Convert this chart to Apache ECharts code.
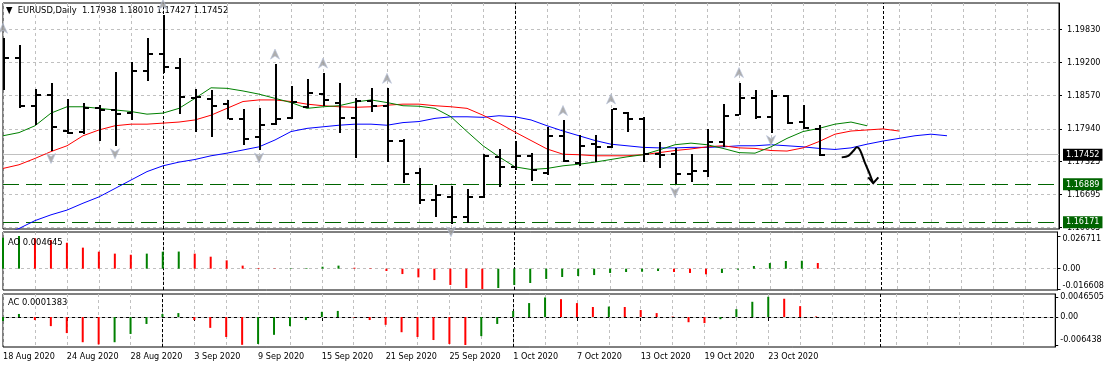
<!DOCTYPE html>
<html><head><meta charset="utf-8">
<script src="https://cdn.jsdelivr.net/npm/echarts@6/dist/echarts.min.js"></script>
<style>html,body{margin:0;padding:0;background:#fff}#c{width:1107px;height:368px}</style>
</head><body><div id="c"></div>
<script>
// ---------- data ----------
const dates = ['18 Aug 2020','19 Aug 2020','20 Aug 2020','21 Aug 2020','24 Aug 2020','25 Aug 2020','26 Aug 2020','27 Aug 2020',
 '28 Aug 2020','31 Aug 2020','1 Sep 2020','2 Sep 2020','3 Sep 2020','4 Sep 2020','7 Sep 2020','8 Sep 2020',
 '9 Sep 2020','10 Sep 2020','11 Sep 2020','14 Sep 2020','15 Sep 2020','16 Sep 2020','17 Sep 2020','18 Sep 2020',
 '21 Sep 2020','22 Sep 2020','23 Sep 2020','24 Sep 2020','25 Sep 2020','28 Sep 2020','29 Sep 2020','30 Sep 2020',
 '1 Oct 2020','2 Oct 2020','5 Oct 2020','6 Oct 2020','7 Oct 2020','8 Oct 2020','9 Oct 2020','12 Oct 2020',
 '13 Oct 2020','14 Oct 2020','15 Oct 2020','16 Oct 2020','19 Oct 2020','20 Oct 2020','21 Oct 2020','22 Oct 2020',
 '23 Oct 2020','26 Oct 2020','27 Oct 2020','28 Oct 2020'];
const futureSlots = 15;

const opens  = [1.1870,1.1929,1.1837,1.1859,1.1790,1.1788,1.1833,1.1830,1.1824,1.1903,1.1936,1.1909,1.1853,1.1851,1.1841,1.1813,
 1.1779,1.1803,1.1814,1.1835,1.1861,1.1844,1.1814,1.1847,1.1837,1.1771,1.1710,1.1660,1.1665,1.1627,1.1665,1.1740,
 1.1722,1.1743,1.1711,1.1781,1.1730,1.1765,1.1759,1.1824,1.1813,1.1746,1.1746,1.1708,1.1714,1.1770,1.1820,1.1853,
 1.1817,1.1856,1.1807,1.17938];
const highs  = [1.1966,1.1953,1.1869,1.1882,1.1851,1.1843,1.1839,1.1902,1.1921,1.1967,1.2011,1.1928,1.1869,1.1867,1.1849,1.1831,
 1.1833,1.1917,1.1875,1.1889,1.1900,1.1882,1.1852,1.1871,1.1871,1.1775,1.1719,1.1688,1.1686,1.1680,1.1746,1.1756,
 1.1772,1.1749,1.1798,1.1810,1.1782,1.1782,1.1832,1.1827,1.1816,1.1770,1.1757,1.1746,1.1794,1.1841,1.1882,1.1868,
 1.1867,1.1858,1.1839,1.18010];
const lows   = [1.1868,1.1833,1.1801,1.1753,1.1784,1.1784,1.1772,1.1762,1.1810,1.1884,1.1901,1.1822,1.1789,1.1779,1.1812,1.1763,
 1.1754,1.1801,1.1813,1.1833,1.1837,1.1787,1.1738,1.1826,1.1732,1.1691,1.1652,1.1626,1.1614,1.1615,1.1662,1.1684,
 1.1716,1.1696,1.1707,1.1732,1.1724,1.1732,1.1757,1.1788,1.1731,1.1719,1.1689,1.1694,1.1703,1.1760,1.1820,1.1813,
 1.1787,1.1803,1.1794,1.17427];
const closes = [1.1929,1.1837,1.1859,1.1797,1.1786,1.1833,1.1830,1.1822,1.1903,1.1936,1.1911,1.1855,1.1854,1.1837,1.1813,1.1774,
 1.1801,1.1813,1.1845,1.1862,1.1849,1.1815,1.1847,1.1837,1.1772,1.1709,1.1660,1.1669,1.1627,1.1665,1.1743,1.1722,
 1.1743,1.1716,1.1781,1.1733,1.1762,1.1760,1.1831,1.1813,1.1746,1.1745,1.1708,1.1714,1.1770,1.1819,1.1853,1.1817,
 1.1856,1.1806,1.1795,1.17452];

// Alligator lines (already shifted forward)
const lips  = [1.1781,1.1787,1.1800,1.1824,1.1836,1.1836,1.1833,1.1830,1.1827,1.1822,
 1.1824,1.1833,1.1852,1.1872,1.1871,1.1866,1.1860,1.1852,1.1844,1.1833,
 1.1836,1.1838,1.1845,1.1849,1.1844,1.1838,1.1837,1.1833,1.1817,1.1789,
 1.1762,1.1741,1.1722,1.1717,1.1719,1.1724,1.1727,1.1731,1.1736,1.1741,
 1.1745,1.1754,1.1764,1.1767,1.1764,1.1757,1.1749,1.1748,1.1760,1.1776,
 1.1789,1.1795,1.1803,1.1807,1.1800];
const teeth = [1.1719,1.1726,1.1738,1.1751,1.1762,1.1781,1.1792,1.1800,1.1803,1.1803,
 1.1805,1.1807,1.1811,1.1820,1.1833,1.1846,1.1849,1.1849,1.1846,1.1841,
 1.1838,1.1836,1.1835,1.1836,1.1839,1.1841,1.1841,1.1838,1.1836,1.1833,
 1.1820,1.1805,1.1788,1.1772,1.1756,1.1746,1.1745,1.1743,1.1743,1.1743,
 1.1745,1.1749,1.1753,1.1756,1.1760,1.1762,1.1758,1.1757,1.1753,1.1752,
 1.1758,1.1770,1.1784,1.1790,1.1792,1.1794,1.1790];
const jaw   = [1.1593,1.1605,1.1620,1.1631,1.1640,1.1653,1.1665,1.1681,1.1697,1.1713,
 1.1724,1.1731,1.1736,1.1743,1.1748,1.1754,1.1760,1.1773,1.1789,1.1795,
 1.1798,1.1801,1.1803,1.1803,1.1801,1.1806,1.1808,1.1814,1.1817,1.1817,
 1.1816,1.1819,1.1817,1.1811,1.1800,1.1790,1.1781,1.1772,1.1765,1.1762,
 1.1759,1.1758,1.1758,1.1759,1.1759,1.1760,1.1762,1.1762,1.1764,1.1762,
 1.1760,1.1757,1.1755,1.1758,1.1765,1.1771,1.1776,1.1781,1.1784,1.1781];

const upFractals   = [[0,1.1966],[10,1.2011],[17,1.1917],[20,1.1900],[24,1.1871],[35,1.1810],[38,1.1832],[46,1.1882]];
const downFractals = [[3,1.1753],[7,1.1762],[16,1.1754],[28,1.1614],[42,1.1689],[48,1.1787]];

const aoValues = [0.0253,0.026711,0.0248,0.0234,0.0212,0.0172,0.0139,0.0123,0.0114,0.0123,0.0139,0.0140,0.0123,0.0098,0.0068,0.0025,
 0.0006,0.0003,0.0004,0.0005,0.0016,0.0025,0.0008,0.0004,-0.0019,-0.0044,-0.0071,-0.0093,-0.0133,-0.0158,-0.016608,-0.0158,
 -0.0133,-0.0117,-0.0084,-0.0068,-0.0060,-0.0052,-0.0035,-0.0027,-0.0025,-0.0019,-0.0027,-0.0035,-0.0046,-0.0035,-0.0008,0.0022,
 0.0046,0.0063,0.0065,0.004645];
const acValues = [-0.0009,0.0007,-0.0007,-0.0021,-0.0037,-0.0058,-0.0063,-0.0058,-0.0039,-0.0016,0.0007,0.0009,-0.0007,-0.0025,-0.0046,-0.0064,
 -0.0062,-0.0041,-0.0021,-0.0007,0.0012,0.0014,-0.0001,-0.0007,-0.0018,-0.0035,-0.0046,-0.0053,-0.0062,-0.006438,-0.0044,-0.0016,
 0.0014,0.0032,0.0045,0.0041,0.0032,0.0023,0.0024,0.0023,0.0016,0.0009,0.0001,-0.0012,-0.0014,-0.0005,0.0018,0.0035,
 0.0046505,0.0042,0.0025,0.0001383];

const priceTicks = [1.19830,1.19200,1.18570,1.17940,1.17325,1.16695,1.16065];
const aoTicks = [0.026711,0,-0.016608];
const aoTickLabels = ['0.026711','0.00','-0.016608'];
const acTicks = [0.0046505,0,-0.006438];
const acTickLabels = ['0.0046505','0.00','-0.006438'];
const bidPrice = 1.17452;
const levels = [1.16889,1.16171];
const monthStarts = [10,32,55];
// hand-drawn arrow annotation, in (bar index, price)
const sketchPath = [[52.42,1.1740],[52.83,1.1743],[53.14,1.1752],[53.36,1.1759],[53.56,1.1754],[53.88,1.1729],[54.19,1.1707],[54.39,1.1691]];
const sketchHead = [[54.08,1.1702],[54.39,1.1691],[54.71,1.1702]];

// ---------- build ----------
const FONT = "'DejaVu Sans Condensed','Liberation Sans',sans-serif";
const categories = dates.slice();
for (let k = 0; k < futureSlots; k++) categories.push('+' + (k + 1));
const N = categories.length;
const pad = a => a.concat(new Array(N - a.length).fill(null));
const GRIDC = '#c0c0c0';
const GREEN = '#008000', RED = '#ff0000';
const lvlGreen = '#006400';

const ohlc = opens.map((o, i) => [i, o, highs[i], lows[i], closes[i]]);
function barColors(vals) {
  return vals.map((v, i) => ({ value: v, itemStyle: { color: (i === 0 || v > vals[i - 1]) ? GREEN : RED } }));
}
const monthLines = monthStarts.map(i => ({ xAxis: categories[i] }));
const dashGrid = { color: GRIDC, type: [3, 3], width: 1 };

function renderOhlc(params, api) {
  const i = api.value(0);
  const pO = api.coord([i, api.value(1)]);
  const pH = api.coord([i, api.value(2)]);
  const pL = api.coord([i, api.value(3)]);
  const pC = api.coord([i, api.value(4)]);
  const x = Math.round(pO[0]);
  const yH = Math.round(pH[1]), yL = Math.round(pL[1]);
  const yO = Math.round(pO[1]), yC = Math.round(pC[1]);
  return { type: 'group', children: [
    { type: 'rect', shape: { x: x, y: yH, width: 2, height: Math.max(1, yL - yH) }, style: { fill: '#000' } },
    { type: 'rect', shape: { x: x - 4, y: yO - 1, width: 4, height: 2 }, style: { fill: '#000' } },
    { type: 'rect', shape: { x: x + 2, y: yC - 1, width: 4, height: 2 }, style: { fill: '#000' } }
  ]};
}
function renderSketch(params, api) {
  const toPt = p => {
    const a = api.coord([0, p[1]]), b = api.coord([1, p[1]]);
    return [a[0] + p[0] * (b[0] - a[0]), a[1]];
  };
  return { type: 'group', children: [
    { type: 'polyline', shape: { points: sketchPath.map(toPt), smooth: 0.3 }, style: { stroke: '#000', lineWidth: 2, fill: null } },
    { type: 'polyline', shape: { points: sketchHead.map(toPt) }, style: { stroke: '#000', lineWidth: 2, fill: null } }
  ]};
}
function tickFmt(ticks, labels, styles) {
  return v => {
    const k = ticks.findIndex(t => Math.abs(t - v) < 1e-9);
    if (k < 0) return '';
    return '{' + styles[k] + '|' + labels[k] + '}';
  };
}
const labelBase = { fontSize: 9, color: '#000', fontFamily: FONT };
const richStyles = {
  m: Object.assign({}, labelBase),
  t: Object.assign({ padding: [6, 0, 0, 0] }, labelBase),
  b: Object.assign({ padding: [0, 0, 6, 0] }, labelBase),
  b2: Object.assign({ padding: [0, 0, 10, 0] }, labelBase)
};

function xAxisCfg(idx, showLabels) {
  return {
    type: 'category', gridIndex: idx, data: categories, boundaryGap: false,
    axisLine: { show: showLabels, lineStyle: { color: '#000' } },
    axisTick: { show: showLabels, length: 4, interval: (i) => i % 4 === 0 && i < dates.length, lineStyle: { color: '#000' } },
    axisLabel: { show: showLabels, interval: (i) => i % 4 === 0 && i < dates.length, align: 'left', margin: 5,
      fontSize: 9, color: '#000', fontFamily: FONT, formatter: (v, i) => (i < dates.length ? v : '') },
    splitLine: { show: true, interval: (i) => i % 2 === 0, lineStyle: dashGrid }
  };
}
const levelLabel = (bg) => ({ show: true, position: 'end', distance: 4, color: '#fff', backgroundColor: bg,
  padding: [2, 3, 1, 3], fontSize: 9, fontFamily: FONT });
const ML = { silent: true, symbol: ['none', 'none'], precision: 8 };

const option = {
  animation: false,
  backgroundColor: '#fff',
  textStyle: { fontFamily: FONT },
  title: [
    { text: '\u25BC  EURUSD,Daily  ' + [opens[51], highs[51], lows[51], closes[51]].map(v => v.toFixed(5)).join(' '),
      left: 6, top: 6, padding: 0, textStyle: { fontSize: 9.3, fontWeight: 'normal', color: '#000', fontFamily: FONT } },
    { text: 'AO ' + aoValues[aoValues.length - 1], left: 8, top: 238, padding: 0,
      textStyle: { fontSize: 9.3, fontWeight: 'normal', color: '#000', fontFamily: FONT } },
    { text: 'AC ' + acValues[acValues.length - 1], left: 8, top: 298, padding: 0,
      textStyle: { fontSize: 9.3, fontWeight: 'normal', color: '#000', fontFamily: FONT } }
  ],
  grid: [
    { left: 3, right: 48, top: 3, height: 226, show: true, borderColor: '#000', borderWidth: 1 },
    { left: 3, right: 48, top: 232, height: 58, show: true, borderColor: '#000', borderWidth: 1 },
    { left: 3, right: 48, top: 294, height: 53, show: true, borderColor: '#000', borderWidth: 1 }
  ],
  xAxis: [xAxisCfg(0, false), xAxisCfg(1, false), xAxisCfg(2, true)],
  yAxis: [
    { type: 'value', gridIndex: 0, position: 'right', min: 1.16041, max: 1.20329,
      splitLine: { show: false }, axisLine: { show: true, lineStyle: { color: '#000' } },
      axisTick: { show: true, length: 3, customValues: priceTicks, lineStyle: { color: '#000' } },
      axisLabel: { customValues: priceTicks, margin: 8, fontSize: 9, color: '#000', fontFamily: FONT, formatter: v => v.toFixed(5) } },
    { type: 'value', gridIndex: 1, position: 'right', min: -0.017425, max: 0.029979,
      splitLine: { show: false }, axisLine: { show: true, lineStyle: { color: '#000' } },
      axisTick: { show: true, length: 3, customValues: aoTicks, lineStyle: { color: '#000' } },
      axisLabel: { customValues: aoTicks, margin: 5, formatter: tickFmt(aoTicks, aoTickLabels, ['t', 'm', 'b']), rich: richStyles } },
    { type: 'value', gridIndex: 2, position: 'right', min: -0.0069, max: 0.00529,
      splitLine: { show: false }, axisLine: { show: true, lineStyle: { color: '#000' } },
      axisTick: { show: true, length: 3, customValues: acTicks, lineStyle: { color: '#000' } },
      axisLabel: { customValues: acTicks, margin: 5, formatter: tickFmt(acTicks, acTickLabels, ['m', 'm', 'b2']), rich: richStyles } }
  ],
  series: [
    { name: 'Jaw', type: 'line', xAxisIndex: 0, yAxisIndex: 0, data: pad(jaw), showSymbol: false, z: 3,
      lineStyle: { color: '#0000ff', width: 1 }, itemStyle: { color: '#0000ff' },
      markLine: Object.assign({}, ML, { z: 1, label: { show: false }, lineStyle: dashGrid,
        data: priceTicks.map(v => ({ yAxis: v })) }) },
    { name: 'Teeth', type: 'line', xAxisIndex: 0, yAxisIndex: 0, data: pad(teeth), showSymbol: false, z: 3,
      lineStyle: { color: '#ff0000', width: 1 }, itemStyle: { color: '#ff0000' },
      markLine: Object.assign({}, ML, { z: 2,
        data: [
          { yAxis: bidPrice, lineStyle: { color: '#c0c0c0', type: 'solid', width: 1 }, label: Object.assign(levelLabel('#000'), { formatter: bidPrice.toFixed(5) }) }
        ].concat(levels.map(v => ({ yAxis: v, lineStyle: { color: lvlGreen, type: [16, 7], width: 1 },
          label: Object.assign(levelLabel(lvlGreen), { formatter: v.toFixed(5) }) }))) }) },
    { name: 'Lips', type: 'line', xAxisIndex: 0, yAxisIndex: 0, data: pad(lips), showSymbol: false, z: 3,
      lineStyle: { color: '#008000', width: 1 }, itemStyle: { color: '#008000' },
      markLine: Object.assign({}, ML, { z: 2, label: { show: false },
        lineStyle: { color: '#000', type: [3, 2], width: 1 }, data: monthLines }) },
    { name: 'EURUSD', type: 'custom', xAxisIndex: 0, yAxisIndex: 0, data: ohlc, renderItem: renderOhlc,
      encode: { x: 0, y: [1, 2, 3, 4] }, z: 10, clip: true },
    { name: 'FractalUp', type: 'scatter', xAxisIndex: 0, yAxisIndex: 0, data: upFractals, z: 11,
      symbol: 'path://M5,0 L10,10 L5,7 L0,10 Z', symbolSize: [9, 10], symbolOffset: [0, -10],
      itemStyle: { color: '#9a9a9a', borderColor: '#b8c4dc', borderWidth: 0.8 } },
    { name: 'FractalDown', type: 'scatter', xAxisIndex: 0, yAxisIndex: 0, data: downFractals, z: 11,
      symbol: 'path://M0,0 L5,3 L10,0 L5,10 Z', symbolSize: [9, 10], symbolOffset: [0, 8],
      itemStyle: { color: '#9a9a9a', borderColor: '#b8c4dc', borderWidth: 0.8 } },
    { name: 'Sketch', type: 'custom', xAxisIndex: 0, yAxisIndex: 0, data: [[0, sketchPath[0][1]]],
      renderItem: renderSketch, z: 12, silent: true },
    { name: 'AO', type: 'bar', xAxisIndex: 1, yAxisIndex: 1, data: barColors(aoValues), barWidth: 2, z: 4,
      markLine: Object.assign({}, ML, { z: 2, label: { show: false },
        data: [{ yAxis: 0, lineStyle: dashGrid }].concat(monthLines.map(m => Object.assign({ lineStyle: { color: '#000', type: [3, 2], width: 1 } }, m))) }) },
    { name: 'AC', type: 'bar', xAxisIndex: 2, yAxisIndex: 2, data: barColors(acValues), barWidth: 2, z: 4,
      markLine: Object.assign({}, ML, { z: 2, label: { show: false },
        data: [{ yAxis: 0, lineStyle: dashGrid }].concat(monthLines.map(m => Object.assign({ lineStyle: { color: '#000', type: [3, 2], width: 1 } }, m))) }) }
  ]
};
const chart = echarts.init(document.getElementById('c'), null, { renderer: 'canvas' });
chart.setOption(option);
</script>
</body></html>
